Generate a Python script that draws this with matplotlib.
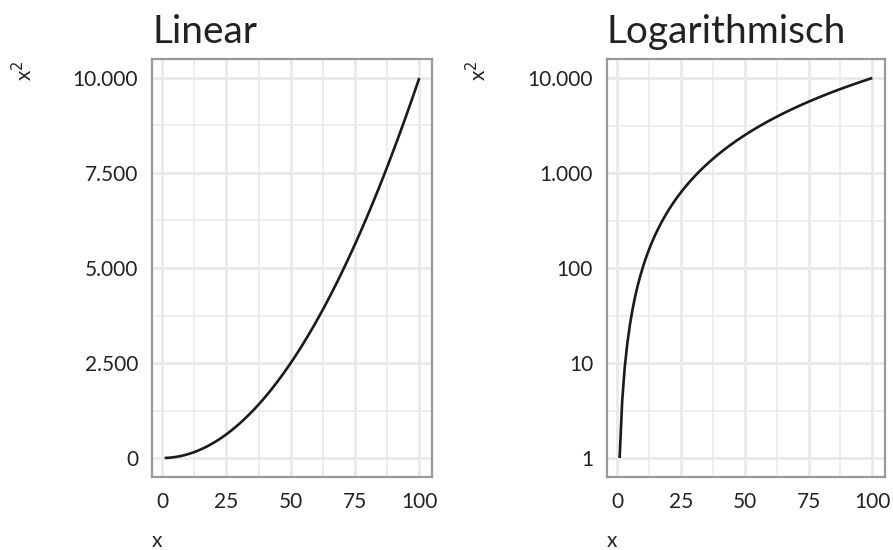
import matplotlib
matplotlib.use("Agg")
import matplotlib.pyplot as plt
from matplotlib.ticker import FixedLocator, NullFormatter

plt.rcParams['font.family'] = ['Lato', 'DejaVu Sans']

# data: x and x^2 values
x_vals = [1, 2, 3, 4, 5, 6, 7, 8, 9, 10,
          11, 12, 13, 14, 15, 16, 17, 18, 19, 20,
          21, 22, 23, 24, 25, 26, 27, 28, 29, 30,
          31, 32, 33, 34, 35, 36, 37, 38, 39, 40,
          41, 42, 43, 44, 45, 46, 47, 48, 49, 50,
          51, 52, 53, 54, 55, 56, 57, 58, 59, 60,
          61, 62, 63, 64, 65, 66, 67, 68, 69, 70,
          71, 72, 73, 74, 75, 76, 77, 78, 79, 80,
          81, 82, 83, 84, 85, 86, 87, 88, 89, 90,
          91, 92, 93, 94, 95, 96, 97, 98, 99, 100]
y_vals = [1, 4, 9, 16, 25, 36, 49, 64, 81, 100,
          121, 144, 169, 196, 225, 256, 289, 324, 361, 400,
          441, 484, 529, 576, 625, 676, 729, 784, 841, 900,
          961, 1024, 1089, 1156, 1225, 1296, 1369, 1444, 1521, 1600,
          1681, 1764, 1849, 1936, 2025, 2116, 2209, 2304, 2401, 2500,
          2601, 2704, 2809, 2916, 3025, 3136, 3249, 3364, 3481, 3600,
          3721, 3844, 3969, 4096, 4225, 4356, 4489, 4624, 4761, 4900,
          5041, 5184, 5329, 5476, 5625, 5776, 5929, 6084, 6241, 6400,
          6561, 6724, 6889, 7056, 7225, 7396, 7569, 7744, 7921, 8100,
          8281, 8464, 8649, 8836, 9025, 9216, 9409, 9604, 9801, 10000]

x_ticks = [0, 25, 50, 75, 100]
x_tick_labels = ["0", "25", "50", "75", "100"]
x_minor = [12.5, 37.5, 62.5, 87.5]

lin_ticks = [0, 2500, 5000, 7500, 10000]
lin_labels = ["0", "2.500", "5.000", "7.500", "10.000"]
lin_minor = [1250, 3750, 6250, 8750]

log_ticks = [1, 10, 100, 1000, 10000]
log_labels = ["1", "10", "100", "1.000", "10.000"]
log_minor = [10 ** 0.5, 10 ** 1.5, 10 ** 2.5, 10 ** 3.5]

titles = ["Linear", "Logarithmisch"]

W, H = 893, 550
fig = plt.figure(figsize=(W / 100, H / 100), dpi=100)

GRID = "#e9e9e9"
BORDER = "#999999"
TXT = "#222222"

def px_axes(l, t, r, b):
    return fig.add_axes([l / W, 1 - b / H, (r - l) / W, (b - t) / H])

panels = [(152, 59, 432, 477), (607, 59, 885, 477)]

for i, (l, t, r, b) in enumerate(panels):
    ax = px_axes(l, t, r, b)
    ax.set_facecolor("white")
    if i == 1:
        ax.set_yscale("log")
        ax.set_ylim(10 ** -0.2, 10 ** 4.2)
        ax.yaxis.set_major_locator(FixedLocator(log_ticks))
        ax.set_yticklabels(log_labels)
        ax.yaxis.set_minor_locator(FixedLocator(log_minor))
    else:
        ax.set_ylim(-499.95, 10499.95)
        ax.yaxis.set_major_locator(FixedLocator(lin_ticks))
        ax.set_yticklabels(lin_labels)
        ax.yaxis.set_minor_locator(FixedLocator(lin_minor))
    ax.yaxis.set_minor_formatter(NullFormatter())
    ax.set_xlim(-3.95, 104.95)
    ax.xaxis.set_major_locator(FixedLocator(x_ticks))
    ax.set_xticklabels(x_tick_labels)
    ax.xaxis.set_minor_locator(FixedLocator(x_minor))
    ax.xaxis.set_minor_formatter(NullFormatter())

    ax.grid(True, which="major", color=GRID, lw=2.0, zorder=0)
    ax.grid(True, which="minor", color=GRID, lw=1.1, zorder=0)
    ax.set_axisbelow(True)

    ax.plot(x_vals, y_vals, color="#1a1a1a", lw=1.9, zorder=3,
            solid_capstyle="butt")

    for s in ax.spines.values():
        s.set_color(BORDER)
        s.set_linewidth(1.6)

    ax.tick_params(which="both", length=0)
    ax.tick_params(axis="y", which="major", pad=10, labelsize=15, labelcolor=TXT)
    ax.tick_params(axis="x", which="major", pad=11, labelsize=15, labelcolor=TXT)

    ax.set_title(titles[i], loc="left", fontsize=28, color=TXT, pad=11.5)

    # axis titles
    fig.text((l - 128) / W if i == 0 else (l - 129) / W, 1 - 61 / H, "x$^2$",
             rotation=90, ha="center", va="top", fontsize=15, color=TXT)
    fig.text(l / W, 1 - 547 / H, "x", ha="left", va="baseline",
             fontsize=15, color=TXT)

fig.savefig("out.png", dpi=100, facecolor="white")
